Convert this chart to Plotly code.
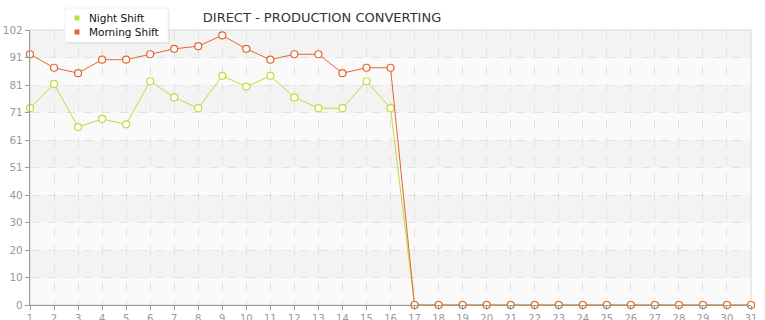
import math
import plotly.graph_objects as go

days = list(range(1, 32))
night_shift = [73, 82, 66, 69, 67, 83, 77, 73, 85, 81, 85, 77, 73, 73, 83, 73] + [0] * 15
morning_shift = [93, 88, 86, 91, 91, 93, 95, 96, 100, 95, 91, 93, 93, 86, 88, 88] + [0] * 15
series_names = ["Night Shift", "Morning Shift"]
y_max = 102
y_tick_vals = [i * y_max / 10 for i in range(11)]
y_tick_text = [str(math.floor(v + 1e-9)) for v in y_tick_vals]

NIGHT = "#c2dc3a"
MORNING = "#e2672f"
FONT = "DejaVu Sans"
W, H = 765, 320
ML, MR, MT, MB = 30, 14, 30, 15

fig = go.Figure()

# alternating background bands
for i in range(10):
    fig.add_shape(type="rect", xref="paper", yref="y", x0=0, x1=1,
                  y0=y_tick_vals[i], y1=y_tick_vals[i + 1],
                  fillcolor="#f3f3f3" if (9 - i) % 2 == 0 else "#fafafa",
                  line_width=0, layer="below")
fig.add_shape(type="rect", xref="paper", yref="paper", x0=0, x1=1, y0=0, y1=1,
              line=dict(color="#e3e3e3", width=1.5), layer="below")

for name, vals, col in [(series_names[0], night_shift, NIGHT), (series_names[1], morning_shift, MORNING)]:
    fig.add_trace(go.Scatter(
        x=days, y=vals, mode="lines+markers", name=name, showlegend=False,
        line=dict(color=col, width=1),
        marker=dict(symbol="circle", size=7, color="white", line=dict(color=col, width=1.2)),
        cliponaxis=False,
    ))

# manual legend box (pixel positions converted to paper coords)
def px(x):
    return (x - ML) / (W - ML - MR)

def py(y):
    return (H - MB - y) / (H - MT - MB)

# shadow
fig.add_shape(type="rect", xref="paper", yref="paper", x0=px(67), x1=px(170), y0=py(44), y1=py(10),
              fillcolor="rgba(0,0,0,0.06)", line_width=0, layer="above")
fig.add_shape(type="rect", xref="paper", yref="paper", x0=px(65), x1=px(168), y0=py(42), y1=py(8),
              fillcolor="white", line=dict(color="#f0f0f0", width=1), layer="above")
for k, (name, col) in enumerate(zip(series_names, [NIGHT, MORNING])):
    yc = 18 + 14 * k
    fig.add_shape(type="rect", xref="paper", yref="paper", x0=px(74.5), x1=px(79.5),
                  y0=py(yc + 2.5), y1=py(yc - 2.5), fillcolor=col, line_width=0, layer="above")
    fig.add_annotation(text=name, xref="paper", yref="paper", x=px(87), y=py(yc),
                       xanchor="left", yanchor="middle", showarrow=False,
                       font=dict(family=FONT, size=10.5, color="#111"))

fig.update_layout(
    width=W, height=H,
    margin=dict(l=ML, r=MR, t=MT, b=MB),
    paper_bgcolor="white", plot_bgcolor="#f7f7f7",
    font=dict(family=FONT, size=10, color="#999"),
    title=dict(text="DIRECT - PRODUCTION CONVERTING", x=322 / W, xanchor="center",
               y=1 - 17 / H, yanchor="middle", font=dict(family=FONT, size=13, color="#333")),
    showlegend=False,
)
fig.update_xaxes(range=[1, 31], tickvals=days, ticktext=[str(d) for d in days], automargin=False,
                 showgrid=True, gridcolor="#e2e2e2", griddash="dash", gridwidth=1,
                 showline=True, linecolor="#999", linewidth=1.3,
                 ticks="outside", ticklen=4, tickcolor="#999", zeroline=False,
                 tickfont=dict(size=10, color="#999"))
fig.update_yaxes(range=[0, y_max], tickvals=y_tick_vals, ticktext=y_tick_text, automargin=False,
                 showgrid=True, gridcolor="#e2e2e2", griddash="dash", gridwidth=1,
                 showline=True, linecolor="#999", linewidth=1.3,
                 ticks="outside", ticklen=4, tickcolor="#999", zeroline=False,
                 tickfont=dict(size=10.5, color="#999"))

fig.write_html("out.html")
